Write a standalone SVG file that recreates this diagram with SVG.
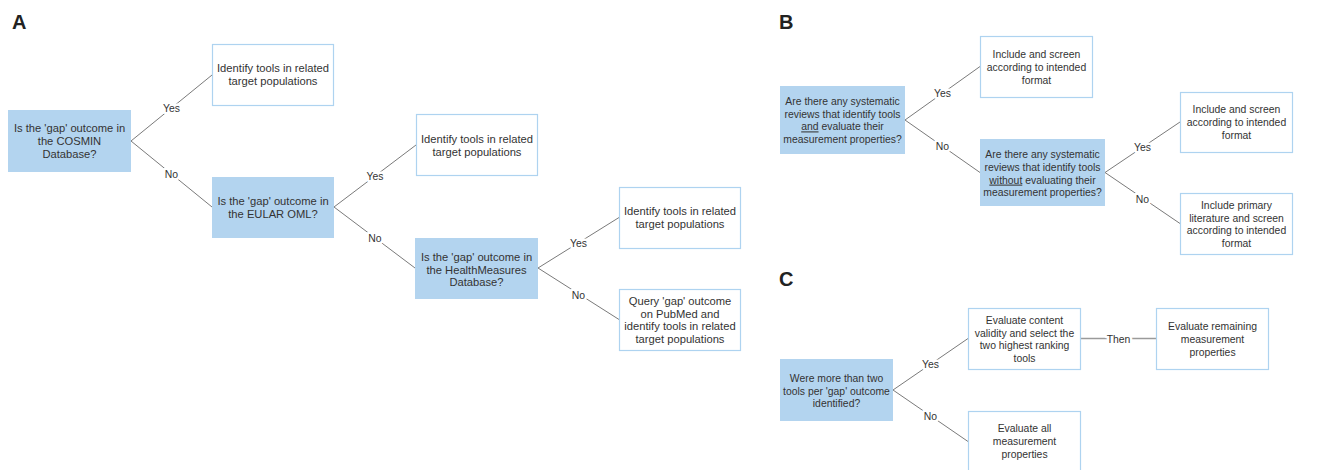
<svg xmlns="http://www.w3.org/2000/svg" width="1336" height="470" viewBox="0 0 1336 470">
<style>
text{font-family:"Liberation Sans",Arial,sans-serif;font-size:11.2px;fill:#333;text-anchor:middle}
.s{font-size:10.4px}
.sec{font-size:20px;font-weight:bold;fill:#222;text-anchor:start}
.q{fill:#b3d4ef;stroke:none}
.r{fill:#fff;stroke:#aed3f0;stroke-width:1.2}
.c line{stroke:#7a7a7a;stroke-width:1}
.c line.then{stroke:#9a9a9a;stroke-width:1.6}
.lbl{font-size:10.4px;stroke:#fff;stroke-width:5;paint-order:stroke;stroke-linejoin:round}
.u{text-decoration:underline}
</style>
<rect width="1336" height="470" fill="#fff"/>
<text class="sec" x="12" y="29">A</text>
<text class="sec" x="779" y="29">B</text>
<text class="sec" x="779" y="286">C</text>

<g id="connectors" class="c">
<line x1="131" y1="141" x2="212" y2="75"/>
<line x1="131" y1="141" x2="212" y2="207"/>
<line x1="334" y1="207" x2="416" y2="145"/>
<line x1="334" y1="207" x2="415" y2="268"/>
<line x1="538" y1="268" x2="619" y2="217.5"/>
<line x1="538" y1="268" x2="619" y2="319.5"/>
<line x1="905" y1="120" x2="980" y2="66.5"/>
<line x1="905" y1="120" x2="980" y2="172.5"/>
<line x1="1105" y1="172.5" x2="1180" y2="122"/>
<line x1="1105" y1="172.5" x2="1180" y2="223.5"/>
<line x1="893" y1="390" x2="968" y2="338.5"/>
<line x1="893" y1="390" x2="968" y2="441.5"/>
<line class="then" x1="1081" y1="338.5" x2="1156" y2="338.5"/>
<text class="lbl" x="171.5" y="112">Yes</text>
<text class="lbl" x="171.5" y="178">No</text>
<text class="lbl" x="375" y="180">Yes</text>
<text class="lbl" x="375" y="242">No</text>
<text class="lbl" x="578.5" y="247">Yes</text>
<text class="lbl" x="578.5" y="299">No</text>
<text class="lbl" x="942.5" y="97">Yes</text>
<text class="lbl" x="942.5" y="150">No</text>
<text class="lbl" x="1142.5" y="151">Yes</text>
<text class="lbl" x="1142.5" y="203">No</text>
<text class="lbl" x="930.5" y="368">Yes</text>
<text class="lbl" x="930.5" y="420">No</text>
<text class="lbl" x="1118.5" y="342.5">Then</text>
</g>

<g id="a1"><rect class="q" x="8" y="110" width="123" height="62"/>
<text x="69.5" y="132">Is the 'gap' outcome in</text><text x="69.5" y="145">the COSMIN</text><text x="69.5" y="158">Database?</text></g>
<g id="a1yes"><rect class="r" x="212.5" y="44.5" width="121" height="61"/>
<text x="273" y="72">Identify tools in related</text><text x="273" y="85">target populations</text></g>
<g id="a2"><rect class="q" x="212" y="177" width="122" height="61"/>
<text x="273" y="205">Is the 'gap' outcome in</text><text x="273" y="218">the EULAR OML?</text></g>
<g id="a2yes"><rect class="r" x="416.5" y="114.5" width="121" height="61"/>
<text x="477" y="142.5">Identify tools in related</text><text x="477" y="155.5">target populations</text></g>
<g id="a3"><rect class="q" x="415" y="238" width="123" height="61"/>
<text x="476.5" y="261">Is the 'gap' outcome in</text><text x="476.5" y="273.5">the HealthMeasures</text><text x="476.5" y="286">Database?</text></g>
<g id="a3yes"><rect class="r" x="619.5" y="187.5" width="121" height="61"/>
<text x="680" y="215">Identify tools in related</text><text x="680" y="228">target populations</text></g>
<g id="a3no"><rect class="r" x="619.5" y="289.5" width="121" height="61"/>
<text x="680" y="305">Query 'gap' outcome</text><text x="680" y="317.5">on PubMed and</text><text x="680" y="330">identify tools in related</text><text x="680" y="342.5">target populations</text></g>

<g id="b1"><rect class="q" x="780" y="86" width="125" height="68"/>
<text class="s" x="842.5" y="105">Are there any systematic</text><text class="s" x="842.5" y="117.7">reviews that identify tools</text><text class="s" x="842.5" y="130.4"><tspan class="u">and</tspan> evaluate their</text><text class="s" x="842.5" y="143">measurement properties?</text></g>
<g id="b1yes"><rect class="r" x="980.5" y="36.5" width="112" height="61"/>
<text class="s" x="1036.5" y="58">Include and screen</text><text class="s" x="1036.5" y="71">according to intended</text><text class="s" x="1036.5" y="84">format</text></g>
<g id="b2"><rect class="q" x="980" y="139" width="125" height="67"/>
<text class="s" x="1042.5" y="158">Are there any systematic</text><text class="s" x="1042.5" y="170.8">reviews that identify tools</text><text class="s" x="1042.5" y="183.6"><tspan class="u">without</tspan> evaluating their</text><text class="s" x="1042.5" y="196.4">measurement properties?</text></g>
<g id="b2yes"><rect class="r" x="1180.5" y="92.5" width="112" height="60"/>
<text class="s" x="1236.5" y="113">Include and screen</text><text class="s" x="1236.5" y="126">according to intended</text><text class="s" x="1236.5" y="138.5">format</text></g>
<g id="b2no"><rect class="r" x="1180.5" y="193.5" width="112" height="61"/>
<text class="s" x="1236.5" y="209">Include primary</text><text class="s" x="1236.5" y="221.7">literature and screen</text><text class="s" x="1236.5" y="234.4">according to intended</text><text class="s" x="1236.5" y="247">format</text></g>

<g id="c1"><rect class="q" x="780" y="359" width="113" height="62"/>
<text class="s" x="836.5" y="382">Were more than two</text><text class="s" x="836.5" y="394.5">tools per 'gap' outcome</text><text class="s" x="836.5" y="407">identified?</text></g>
<g id="c1yes"><rect class="r" x="968.5" y="308.5" width="112" height="61"/>
<text class="s" x="1024.5" y="324">Evaluate content</text><text class="s" x="1024.5" y="336.7">validity and select the</text><text class="s" x="1024.5" y="349.4">two highest ranking</text><text class="s" x="1024.5" y="362">tools</text></g>
<g id="c1then"><rect class="r" x="1156.5" y="308.5" width="112" height="61"/>
<text class="s" x="1212.5" y="330">Evaluate remaining</text><text class="s" x="1212.5" y="343">measurement</text><text class="s" x="1212.5" y="355.5">properties</text></g>
<g id="c1no"><rect class="r" x="968.5" y="411.5" width="112" height="62"/>
<text class="s" x="1024.5" y="432">Evaluate all</text><text class="s" x="1024.5" y="445">measurement</text><text class="s" x="1024.5" y="457.5">properties</text></g>
</svg>
